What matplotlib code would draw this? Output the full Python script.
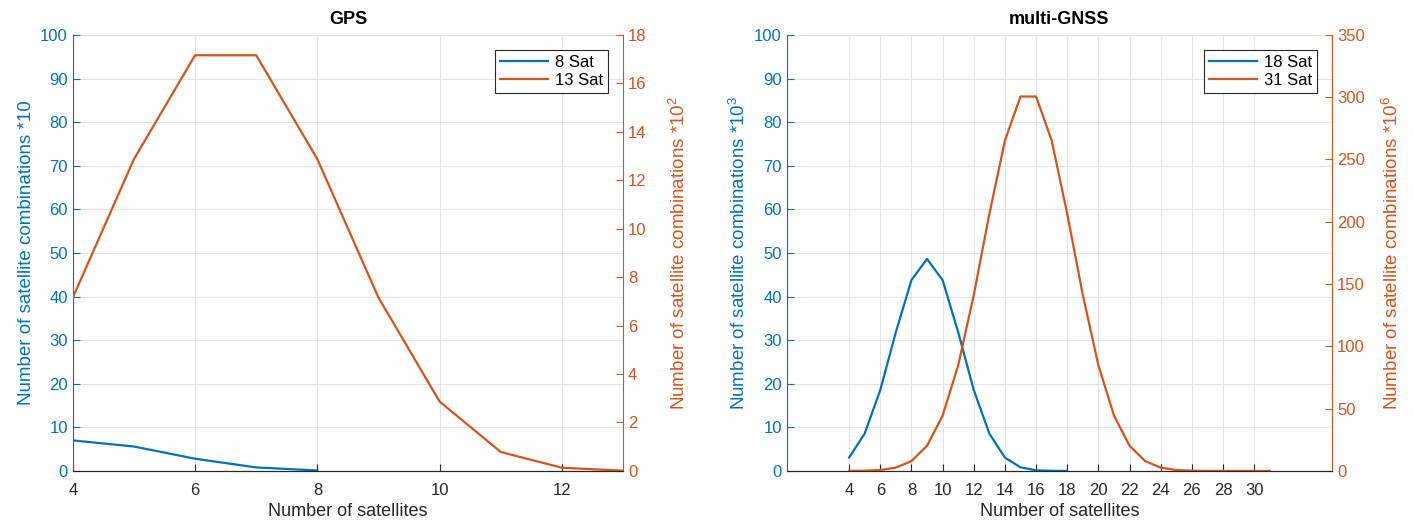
"""
Number of satellite combinations vs. number of satellites used,
GPS (8 / 13 sats) and multi-GNSS (18 / 31 sats).
"""

import matplotlib
matplotlib.use('Agg')
import matplotlib.pyplot as plt

plt.rcParams['font.family'] = ['Liberation Sans', 'DejaVu Sans']
plt.rcParams['mathtext.fontset'] = 'custom'
plt.rcParams['mathtext.rm'] = 'Liberation Sans'
plt.rcParams['mathtext.default'] = 'regular'

blue = '#0072BD'
orange = '#D95319'
grey = '#262626'

# GPS
gps_n8 = [4, 5, 6, 7, 8]
gps_8sat = [7.0, 5.6, 2.8, 0.8, 0.1]                      # *10
gps_n13 = [4, 5, 6, 7, 8, 9, 10, 11, 12, 13]
gps_13sat = [7.15, 12.87, 17.16, 17.16, 12.87, 7.15, 2.86, 0.78, 0.13, 0.01]   # *10^2

# multi-GNSS
gnss_n18 = list(range(4, 19))
gnss_18sat = [3.06, 8.57, 18.56, 31.82, 43.76, 48.62, 43.76, 31.82,
              18.56, 8.57, 3.06, 0.82, 0.15, 0.02, 0.0]    # *10^3
gnss_n31 = list(range(4, 32))
gnss_31sat = [0.03, 0.17, 0.74, 2.63, 7.89, 20.16, 44.35, 84.67, 141.12,
              206.25, 265.18, 300.54, 300.54, 265.18, 206.25, 141.12, 84.67,
              44.35, 20.16, 7.89, 2.63, 0.74, 0.17, 0.03, 0.0, 0.0, 0.0, 0.0]  # *10^6

fig = plt.figure(figsize=(14.13, 5.25), dpi=100)


def make_panel(rect, title, xl, yl_left, yl_right, xlim, xticks,
               x1, y1, lab1, x2, y2, lab2, ylim2, yticks2, rpad):
    ax = fig.add_axes(rect)
    ax2 = ax.twinx()
    l1, = ax.plot(x1, y1, color=blue, lw=1.6, label=lab1)
    l2, = ax2.plot(x2, y2, color=orange, lw=1.6, label=lab2)

    ax.set_xlim(xlim)
    ax.set_xticks(xticks)
    ax.set_ylim(0, 100)
    ax.set_yticks(range(0, 101, 10))
    ax2.set_ylim(ylim2)
    ax2.set_yticks(yticks2)

    ax.grid(True, color='#e3e3e3', lw=0.8)
    ax.set_axisbelow(True)

    for a in (ax, ax2):
        a.spines['top'].set_visible(False)
        a.tick_params(direction='in', length=5, labelsize=12)
    ax.spines['right'].set_visible(False)
    ax2.spines['left'].set_visible(False)
    ax.spines['bottom'].set_color(grey)
    ax2.spines['bottom'].set_color(grey)
    ax.spines['left'].set_color(blue)
    ax2.spines['right'].set_color(orange)
    ax.tick_params(axis='x', colors=grey, pad=9)
    ax.tick_params(axis='y', colors=blue)
    ax2.tick_params(axis='y', colors=orange)

    ax.set_title(title, fontsize=13, fontweight='bold', pad=8)
    ax.set_xlabel(xl, fontsize=13, color=grey, labelpad=3)
    ax.set_ylabel(yl_left, fontsize=13.5, color=blue)
    ax2.set_ylabel(yl_right, fontsize=13.5, color=orange, labelpad=rpad)

    leg = ax2.legend(handles=[l1, l2], loc='upper right', fontsize=12,
                     fancybox=False, framealpha=1, edgecolor=grey,
                     handlelength=2.9, borderaxespad=0.9,
                     borderpad=0.3, labelspacing=0.2, handletextpad=0.4)
    leg.get_frame().set_linewidth(0.8)
    return ax, ax2


make_panel([0.0515, 0.103, 0.3895, 0.8305], 'GPS', 'Number of satellites',
           'Number of satellite combinations *10',
           'Number of satellite combinations *10$^2$',
           (4, 13), range(4, 14, 2),
           gps_n8, gps_8sat, '8 Sat', gps_n13, gps_13sat, '13 Sat',
           (0, 18), range(0, 19, 2), 16)

make_panel([0.5568, 0.103, 0.386, 0.8305], 'multi-GNSS', 'Number of satellites',
           'Number of satellite combinations *10$^3$',
           'Number of satellite combinations *10$^6$',
           (0, 35), range(4, 31, 2),
           gnss_n18, gnss_18sat, '18 Sat', gnss_n31, gnss_31sat, '31 Sat',
           (0, 350), range(0, 351, 50), 12)

fig.savefig('out.png', dpi=100)
